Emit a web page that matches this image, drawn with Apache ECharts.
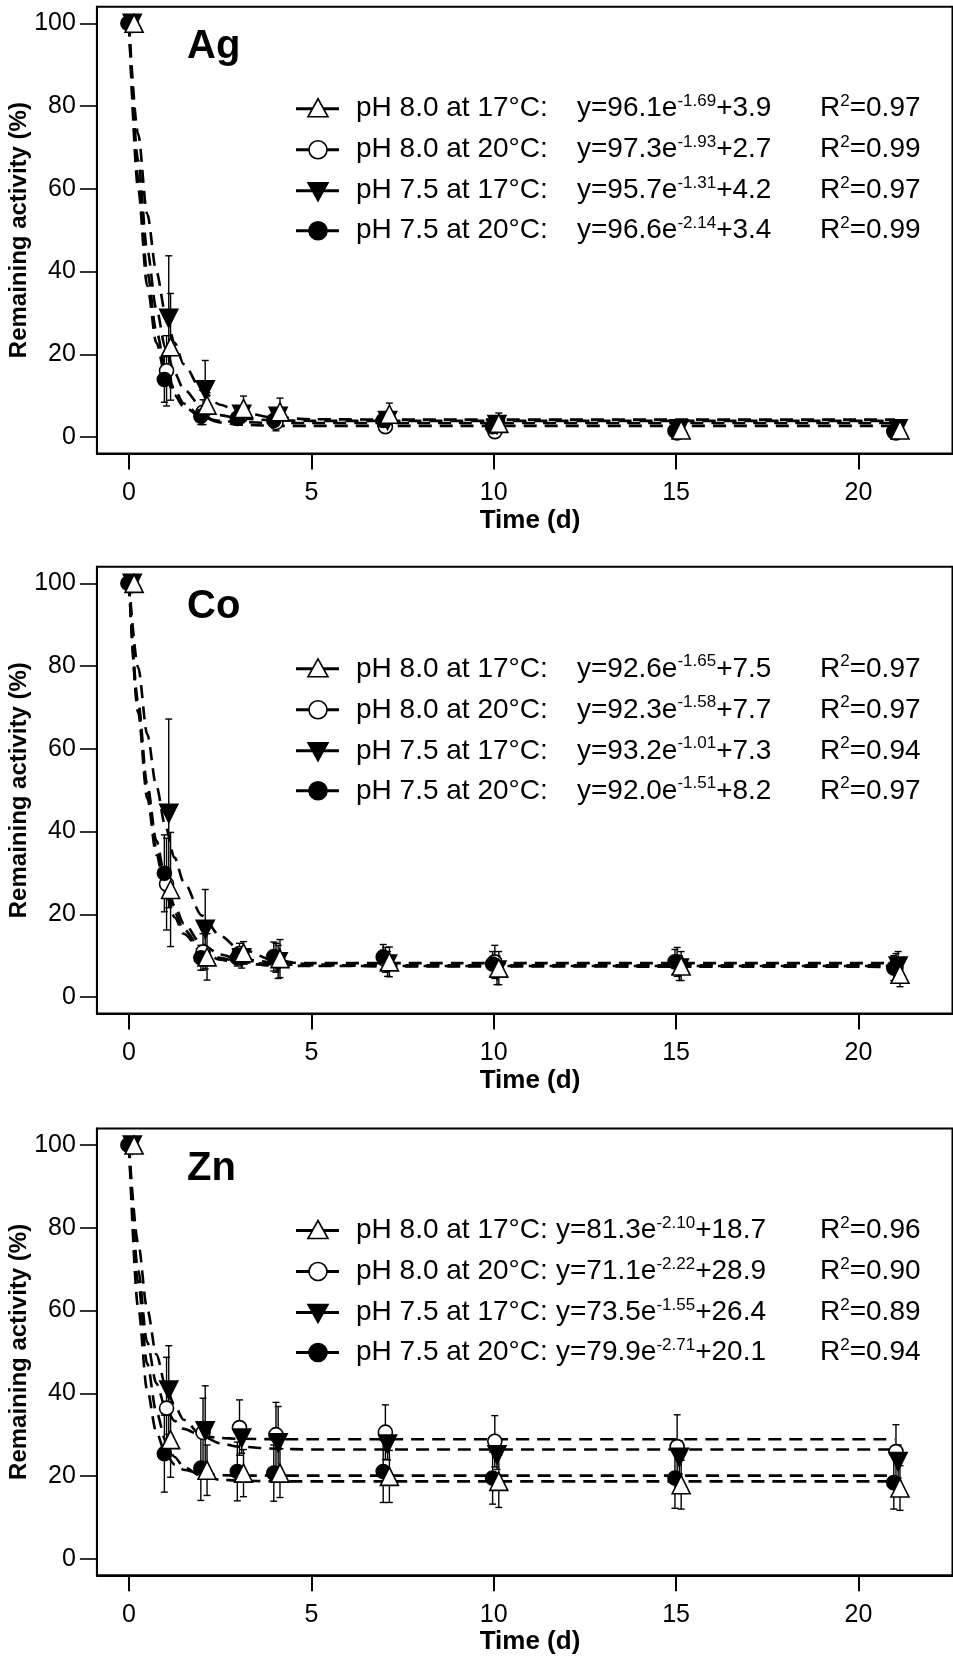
<!DOCTYPE html>
<html><head><meta charset="utf-8">
<script src="https://cdn.jsdelivr.net/npm/echarts@6/dist/echarts.min.js"></script>
<style>html,body{margin:0;padding:0;background:#fff}#c{width:953px;height:1659px}</style>
</head><body><div id="c"></div>
<script>
// ---------------- data ----------------
const days = [0, 1, 2, 3, 4, 7, 10, 15, 21];
const fitT = [0, 0.25, 0.5, 0.75, 1, 1.25, 1.5, 2, 2.5, 3, 4, 5, 7, 21];
const seriesNames = ['pH 8.0 at 17°C:', 'pH 8.0 at 20°C:', 'pH 7.5 at 17°C:', 'pH 7.5 at 20°C:'];
const panelTitles = ['Ag', 'Co', 'Zn'];
const yTicks = [0, 20, 40, 60, 80, 100];
const xTicks = [0, 5, 10, 15, 20];

// Ag
const agUp = [100, 21.8, 7.7, 6.9, 6.1, 5.5, 3.3, 1.7, 1.7];
const agUpErr = [0, 12.9, 3.0, 3.0, 3.3, 2.7, 2.5, 1.0, 1.0];
const agOpen = [100, 16.0, 6.0, 4.9, 3.5, 2.5, 1.3, 1.0, 1.0];
const agOpenErr = [0, 8.5, 3.0, 2.0, 2.0, 1.5, 1.0, 0.5, 0.5];
const agDown = [100, 28.7, 11.4, 5.5, 5.0, 4.0, 3.0, 2.0, 2.0];
const agDownErr = [0, 15.1, 7.1, 2.0, 2.0, 2.0, 1.5, 1.0, 1.0];
const agFilled = [100, 13.9, 5.0, 4.5, 4.0, 4.0, 2.5, 1.5, 1.3];
const agFilledErr = [0, 5.5, 2.0, 1.5, 1.5, 1.5, 1.0, 0.5, 0.5];
const agFitUp = [100, 66.9, 45.2, 31.0, 21.6, 15.5, 11.5, 7.2, 5.3, 4.5, 4.0, 3.9, 3.9, 3.9];
const agFitOpen = [100, 62.8, 39.8, 25.6, 16.8, 11.4, 8.1, 4.8, 3.5, 3.0, 2.7, 2.7, 2.7, 2.7];
const agFitDown = [99.9, 73.2, 53.9, 40.0, 30.0, 22.8, 17.6, 11.2, 7.8, 6.1, 4.7, 4.3, 4.2, 4.2];
const agFitFilled = [100, 60.0, 36.5, 22.8, 14.8, 10.1, 7.3, 4.7, 3.9, 3.6, 3.4, 3.4, 3.4, 3.4];
const agEq = [['96.1', '-1.69', '3.9', '0.97'], ['97.3', '-1.93', '2.7', '0.99'], ['95.7', '-1.31', '4.2', '0.97'], ['96.6', '-2.14', '3.4', '0.99']];

// Co
const coUp = [100, 26.0, 9.7, 10.7, 9.3, 8.5, 7.0, 7.5, 5.5];
const coUpErr = [0, 13.8, 5.6, 2.7, 4.6, 3.6, 4.0, 3.5, 3.0];
const coOpen = [100, 27.3, 10.9, 10.5, 9.5, 9.0, 8.5, 8.5, 7.0];
const coOpenErr = [0, 11.1, 4.4, 2.5, 3.5, 3.0, 4.0, 3.5, 3.5];
const coDown = [100, 44.4, 16.4, 9.5, 8.5, 8.0, 6.5, 7.0, 7.5];
const coDownErr = [0, 22.8, 9.6, 2.5, 4.0, 3.0, 3.5, 3.0, 3.5];
const coFilled = [100, 29.9, 9.5, 9.5, 9.8, 9.7, 8.0, 8.5, 7.0];
const coFilledErr = [0, 9.3, 3.0, 2.0, 3.5, 3.0, 3.0, 3.0, 3.0];
const coFitUp = [100, 68.8, 48.1, 34.4, 25.3, 19.3, 15.3, 10.9, 9.0, 8.2, 7.6, 7.5, 7.5, 7.5];
const coFitOpen = [100, 69.9, 49.6, 35.9, 26.7, 20.5, 16.3, 11.6, 9.5, 8.5, 7.9, 7.7, 7.7, 7.7];
const coFitDown = [100.5, 79.7, 63.5, 51.0, 41.2, 33.7, 27.8, 19.7, 14.8, 11.8, 8.9, 7.9, 7.4, 7.3];
const coFitFilled = [100.2, 71.3, 51.4, 37.8, 28.5, 22.1, 17.8, 12.7, 10.3, 9.2, 8.4, 8.2, 8.2, 8.2];
const coEq = [['92.6', '-1.65', '7.5', '0.97'], ['92.3', '-1.58', '7.7', '0.97'], ['93.2', '-1.01', '7.3', '0.94'], ['92.0', '-1.51', '8.2', '0.97']];

// Zn
const znUp = [100, 28.8, 21.4, 20.7, 20.7, 19.9, 18.7, 17.9, 17.1];
const znUpErr = [0, 9.1, 6.1, 5.7, 5.9, 6.3, 6.3, 5.9, 5.4];
const znOpen = [100, 36.4, 30.5, 31.7, 30.0, 30.6, 28.4, 27.1, 25.9];
const znOpenErr = [0, 12.3, 8.3, 6.7, 7.8, 6.6, 6.2, 7.7, 6.5];
const znDown = [100, 40.8, 30.9, 29.2, 28.0, 27.7, 25.1, 24.5, 23.5];
const znDownErr = [0, 10.7, 10.9, 3.7, 8.8, 3.8, 3.5, 4.0, 4.0];
const znFilled = [100, 25.4, 21.9, 21.1, 20.7, 21.1, 19.5, 19.5, 18.4];
const znFilledErr = [0, 9.3, 7.8, 7.1, 6.8, 7.5, 6.3, 7.3, 6.4];
const znFitUp = [100, 66.8, 47.1, 35.5, 28.7, 24.6, 22.2, 19.9, 19.1, 18.9, 18.7, 18.7, 18.7, 18.7];
const znFitOpen = [100, 69.7, 52.3, 42.4, 36.6, 33.3, 31.4, 29.7, 29.2, 29.0, 28.9, 28.9, 28.9, 28.9];
const znFitDown = [99.9, 76.3, 60.3, 49.4, 42.0, 37.0, 33.6, 29.7, 27.9, 27.1, 26.6, 26.4, 26.4, 26.4];
const znFitFilled = [100, 60.7, 40.7, 30.6, 25.4, 22.8, 21.5, 20.5, 20.2, 20.1, 20.1, 20.1, 20.1, 20.1];
const znEq = [['81.3', '-2.10', '18.7', '0.96'], ['71.1', '-2.22', '28.9', '0.90'], ['73.5', '-1.55', '26.4', '0.89'], ['79.9', '-2.71', '20.1', '0.94']];

// ---------------- layout ----------------
const panels = [
  { means: [agUp, agOpen, agDown, agFilled], errs: [agUpErr, agOpenErr, agDownErr, agFilledErr], fits: [agFitUp, agFitOpen, agFitDown, agFitFilled], eq: agEq },
  { means: [coUp, coOpen, coDown, coFilled], errs: [coUpErr, coOpenErr, coDownErr, coFilledErr], fits: [coFitUp, coFitOpen, coFitDown, coFitFilled], eq: coEq },
  { means: [znUp, znOpen, znDown, znFilled], errs: [znUpErr, znOpenErr, znDownErr, znFilledErr], fits: [znFitUp, znFitOpen, znFitDown, znFitFilled], eq: znEq }
];
const FONT = 'Liberation Sans, Arial, Helvetica, sans-serif';
const gridTops = [6.75, 566.8, 1128.5];
const GL = 96.9, GW = 855.6, GH = 446.8;
const X_MIN = -0.88, X_MAX = 22.58;
const xOff = [0.14, 0.03, 0.09, -0.03]; // up, open, down, filled
const symbols = ['triangle', 'circle', 'triangle', 'circle'];
const fills = ['#fff', '#fff', '#000', '#000'];
const rotates = [0, 0, 180, 0];
const sizes = [18, 14, 18, 14];
const drawOrder = [1, 2, 3, 0]; // bottom -> top

const grids = [], xAxes = [], yAxes = [], series = [], graphics = [];

function errRender(params, api) {
  const x = api.value(0), m = api.value(1), e = api.value(2);
  if (!e) return null;
  const t = api.coord([x, m + e]), b = api.coord([x, m - e]);
  const cw = 3.5;
  const st = { stroke: '#000', lineWidth: 1.4 };
  return { type: 'group', children: [
    { type: 'line', shape: { x1: t[0], y1: t[1], x2: b[0], y2: b[1] }, style: st },
    { type: 'line', shape: { x1: t[0] - cw, y1: t[1], x2: t[0] + cw, y2: t[1] }, style: st },
    { type: 'line', shape: { x1: b[0] - cw, y1: b[1], x2: b[0] + cw, y2: b[1] }, style: st }
  ]};
}

panels.forEach((p, pi) => {
  const top = gridTops[pi];
  grids.push({ left: GL, top: top, width: GW, height: GH, show: true, borderColor: '#000', borderWidth: 2, backgroundColor: 'transparent' });
  xAxes.push({
    type: 'value', gridIndex: pi, min: X_MIN, max: X_MAX, position: 'bottom',
    axisLine: { show: true, onZero: false, lineStyle: { color: '#000', width: 2 } }, splitLine: { show: false },
    axisTick: { show: true, inside: false, customValues: xTicks, length: 16, lineStyle: { color: '#000', width: 2 } },
    axisLabel: { customValues: xTicks, color: '#000', fontSize: 25, fontFamily: FONT, margin: 27 }
  });
  yAxes.push({
    type: 'value', gridIndex: pi, min: -4, max: 104, position: 'left',
    axisLine: { show: true, onZero: false, lineStyle: { color: '#000', width: 2 } }, splitLine: { show: false },
    axisTick: { show: true, inside: false, customValues: yTicks, length: 17, lineStyle: { color: '#000', width: 1.6 } },
    axisLabel: { customValues: yTicks, color: '#000', fontSize: 25, fontFamily: FONT, margin: 21 }
  });
  // fitted curves
  p.fits.forEach((f) => {
    series.push({
      type: 'line', xAxisIndex: pi, yAxisIndex: pi, showSymbol: false, symbol: 'none',
      smooth: 0.3, smoothMonotone: 'x', silent: true, z: 2,
      lineStyle: { color: '#000', width: 2.6, type: [13, 8] },
      data: fitT.map((t, i) => [t, f[i]])
    });
  });
  // error bars then markers
  drawOrder.forEach((si, k) => {
    series.push({
      type: 'custom', xAxisIndex: pi, yAxisIndex: pi, renderItem: errRender, silent: true, z: 3 + k,
      data: days.map((d, i) => [d + xOff[si], p.means[si][i], p.errs[si][i]])
    });
  });
  drawOrder.forEach((si, k) => {
    series.push({
      type: 'scatter', xAxisIndex: pi, yAxisIndex: pi, symbol: symbols[si], symbolSize: sizes[si],
      symbolRotate: rotates[si], silent: true, z: 10 + k,
      itemStyle: { color: fills[si], borderColor: '#000', borderWidth: 1.6, opacity: 1 },
      data: days.map((d, i) => [d + xOff[si], p.means[si][i]])
    });
  });

  // texts
  const bottom = top + GH;
  const yMid = top + GH / 2;
  graphics.push({ type: 'text', x: 19, y: yMid, rotation: Math.PI / 2,
    style: { text: 'Remaining activity (%)', font: 'bold 24px ' + FONT, fill: '#000', textAlign: 'center', textVerticalAlign: 'middle' } });
  graphics.push({ type: 'text', x: 530, y: bottom + 67,
    style: { text: 'Time (d)', font: 'bold 26px ' + FONT, fill: '#000', textAlign: 'center', textVerticalAlign: 'middle' } });
  graphics.push({ type: 'text', x: 187, y: top + 40,
    style: { text: panelTitles[pi], font: 'bold 40px ' + FONT, fill: '#000', textAlign: 'left', textVerticalAlign: 'middle' } });

  // legend
  const rowOff = [102, 143, 184, 224];
  const eqX = pi === 2 ? 556 : 577;
  for (let si = 0; si < 4; si++) {
    const ry = top + rowOff[si];
    graphics.push({ type: 'line', shape: { x1: 296, y1: ry, x2: 339, y2: ry }, style: { stroke: '#000', lineWidth: 3 } });
    if (si === 1 || si === 3) {
      graphics.push({ type: 'circle', shape: { cx: 318, cy: ry, r: 9 }, style: { fill: fills[si], stroke: '#000', lineWidth: 1.6 } });
    } else if (si === 0) {
      graphics.push({ type: 'polygon', shape: { points: [[318, ry - 10], [328, ry + 8], [308, ry + 8]] }, style: { fill: '#fff', stroke: '#000', lineWidth: 1.6 } });
    } else {
      graphics.push({ type: 'polygon', shape: { points: [[318, ry + 10], [328, ry - 8], [308, ry - 8]] }, style: { fill: '#000', stroke: '#000', lineWidth: 1.6 } });
    }
    const rich = {
      n: { fontSize: 28, fontFamily: FONT, color: '#000', lineHeight: 32 },
      s: { fontSize: 17, fontFamily: FONT, color: '#000', lineHeight: 22, verticalAlign: 'top' }
    };
    graphics.push({ type: 'text', x: 356, y: ry,
      style: { text: '{n|' + seriesNames[si] + '}', rich: rich, textVerticalAlign: 'middle' } });
    const e = p.eq[si];
    graphics.push({ type: 'text', x: eqX, y: ry,
      style: { text: '{n|y=' + e[0] + 'e}{s|' + e[1] + '}{n|+' + e[2] + '}', rich: rich, textVerticalAlign: 'middle' } });
    graphics.push({ type: 'text', x: 820, y: ry,
      style: { text: '{n|R}{s|2}{n|=' + e[3] + '}', rich: rich, textVerticalAlign: 'middle' } });
  }
});

const chart = echarts.init(document.getElementById('c'), null, { renderer: 'canvas' });
chart.setOption({
  backgroundColor: '#fff',
  animation: false,
  grid: grids, xAxis: xAxes, yAxis: yAxes, series: series, graphic: graphics
});
</script></body></html>
